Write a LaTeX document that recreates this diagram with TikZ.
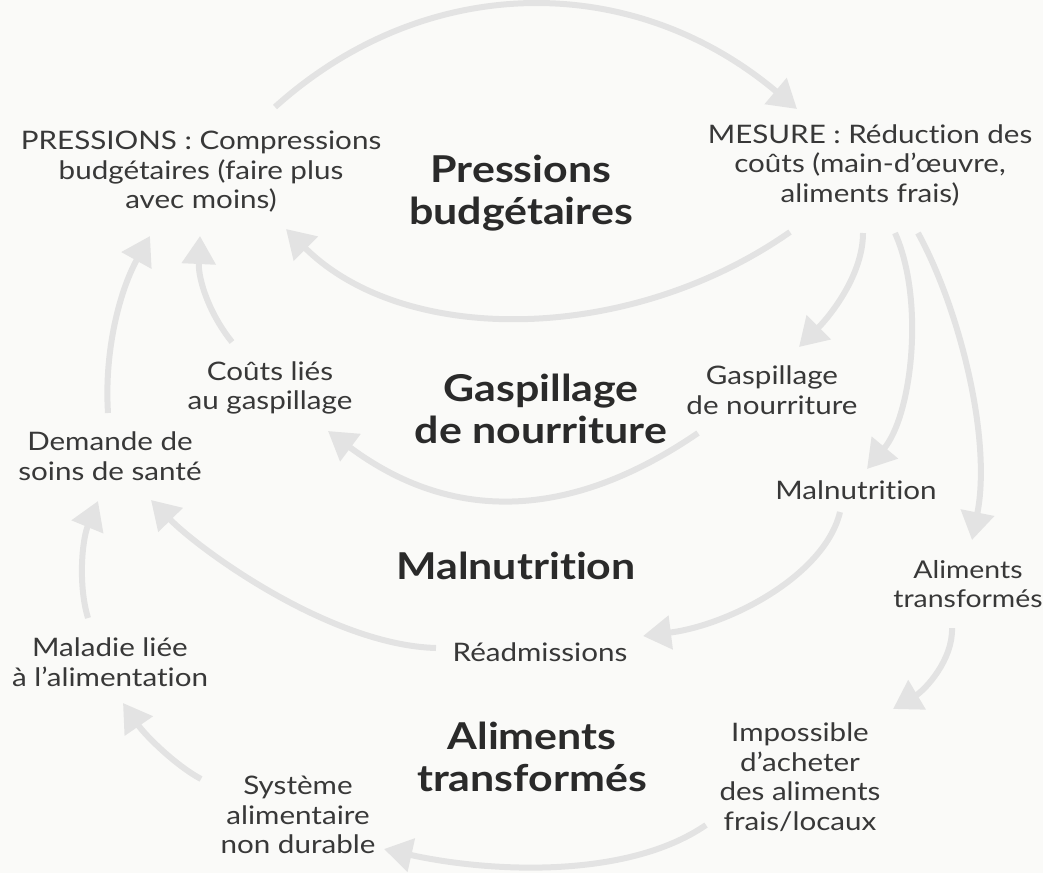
\documentclass[tikz,border=0pt]{standalone}
\usepackage{fontspec}
\setmainfont{Lato}[FakeStretch=1.16, Ligatures={NoCommon}]
\usetikzlibrary{arrows.meta}
\definecolor{bgc}{HTML}{FAFAF8}
\definecolor{arrc}{HTML}{E3E3E3}
\definecolor{txtc}{HTML}{383838}
\definecolor{ttlc}{HTML}{2A2A2A}
\tikzset{
  lbl/.style={align=center, text=txtc, inner sep=0pt, font=\fontsize{25.5}{29.5}\selectfont},
  ttl/.style={align=center, text=ttlc, inner sep=0pt, font=\fontsize{37}{42.5}\selectfont\bfseries},
  arr/.style={draw=arrc, line width=6pt, -{Triangle[length=28pt,width=33pt]}}
}
\begin{document}
\begin{tikzpicture}[x=1pt,y=1pt]
\fill[bgc] (0,0) rectangle (1043,-873);
\useasboundingbox (0,0) rectangle (1043,-873);
% labels
\node[lbl] (press) at (201,-172) {PRESSIONS : Compressions\\budgétaires (faire plus\\avec moins)};
\node[ttl] (tpress) at (521,-193) {Pressions\\budgétaires};
\node[lbl] (mes) at (870,-165) {MESURE : Réduction des\\coûts (main-d’œuvre,\\aliments frais)};
\node[lbl] (couts) at (270,-388) {Coûts liés\\au gaspillage};
\node[ttl] (tgasp) at (541,-409) {Gaspillage\\de nourriture};
\node[lbl] (gasp) at (772,-390) {Gaspillage\\de nourriture};
\node[lbl] (dem) at (110,-456) {Demande de\\soins de santé};
\node[lbl] (maln) at (856,-490) {Malnutrition};
\node[ttl] (tmaln) at (516,-566) {Malnutrition};
\node[lbl, font=\fontsize{24.5}{29.5}\selectfont] (alim) at (968,-584) {Aliments\\transformés};
\node[lbl] (read) at (540,-652) {Réadmissions};
\node[lbl] (mal) at (110,-662) {Maladie liée\\à l'alimentation};
\node[ttl] (talim) at (532,-757) {Aliments\\transformés};
\node[lbl] (imp) at (800,-777) {Impossible\\d’acheter\\des aliments\\frais/locaux};
\node[lbl] (sys) at (298,-815) {Système\\alimentaire\\non durable};
% connector end points
\coordinate (a1) at (275,-107); \coordinate (b1) at (797,-109);
\coordinate (a2) at (790,-232); \coordinate (b2) at (286,-229);
\coordinate (a3) at (863,-233); \coordinate (b3) at (799,-347);
\coordinate (a4) at (895,-233); \coordinate (b4) at (867,-469);
\coordinate (a5) at (918,-233); \coordinate (b5) at (972,-540);
\coordinate (a6) at (698,-433); \coordinate (b6) at (328,-431);
\coordinate (a7) at (840,-512); \coordinate (b7) at (643,-636);
\coordinate (a8) at (436,-648); \coordinate (b8) at (151,-500);
\coordinate (a9) at (952,-628); \coordinate (b9) at (893,-709);
\coordinate (a10) at (706,-825); \coordinate (b10) at (384,-849);
\coordinate (a11) at (201,-779); \coordinate (b11) at (123,-703);
\coordinate (a12) at (88,-618); \coordinate (b12) at (98,-501);
\coordinate (a13) at (108,-413); \coordinate (b13) at (150,-236);
\coordinate (a14) at (232,-342); \coordinate (b14) at (200,-236);
% connectors
\draw[arr] (a1) .. controls (425,28) and (632,30) .. (b1);
\draw[arr] (a2) .. controls (630,-344) and (405,-347) .. (b2);
\draw[arr] (a3) .. controls (863,-275) and (830,-316) .. (b3);
\draw[arr] (a4) .. controls (925,-300) and (912,-415) .. (b4);
\draw[arr] (a5) .. controls (960,-310) and (992,-440) .. (b5);
\draw[arr] (a6) .. controls (568,-522) and (450,-522) .. (b6);
\draw[arr] (a7) .. controls (825,-575) and (730,-625) .. (b7);
\draw[arr] (a8) .. controls (330,-645) and (200,-550) .. (b8);
\draw[arr] (a9) .. controls (953,-660) and (925,-690) .. (b9);
\draw[arr] (a10) .. controls (626,-880) and (487,-872) .. (b10);
\draw[arr] (a11) .. controls (175,-765) and (145,-735) .. (b11);
\draw[arr] (a12) .. controls (78,-585) and (82,-540) .. (b12);
\draw[arr] (a13) .. controls (104,-350) and (120,-290) .. (b13);
\draw[arr] (a14) .. controls (210,-315) and (198,-280) .. (b14);
\end{tikzpicture}
\end{document}
